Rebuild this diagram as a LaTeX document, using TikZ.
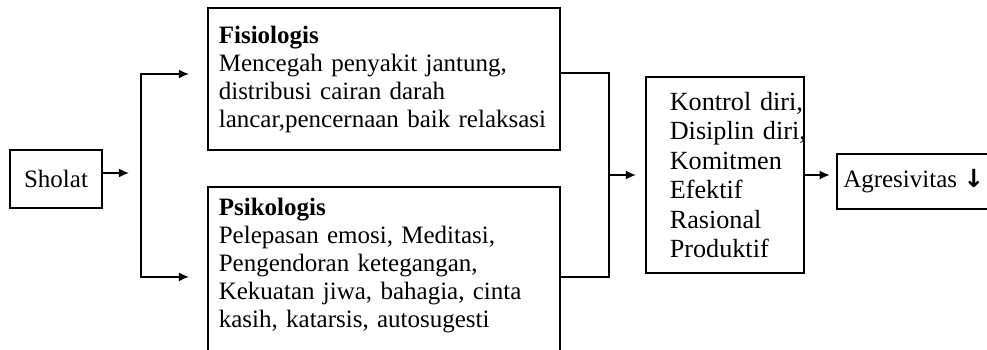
\documentclass[tikz,border=0pt]{standalone}
\usepackage{fontspec}
\setmainfont{Liberation Serif}
\newfontfamily\panah{DejaVu Sans}
\usetikzlibrary{arrows.meta,positioning}
\tikzset{%
  >={Latex[width=4.5pt,length=5pt]},
  % Specifications for style of nodes:
            base/.style = {rectangle, draw=black, line width=0.9pt,
                           font=\fontsize{12.5}{14}\selectfont},
         akarbox/.style = {base, minimum width=46pt, minimum height=29pt},
       dampakbox/.style = {base, align=left, text width=165pt, inner xsep=5.5pt},
        hasilbox/.style = {base, align=left, text width=55pt, inner xsep=12pt,
                           minimum height=98pt,
                           font=\fontsize{13.1}{14.7}\selectfont},
        akhirbox/.style = {base, minimum width=76pt, minimum height=27.5pt},
}

\begin{document}
\begin{tikzpicture}[x=0.5pt, y=-0.5pt, line width=0.75pt]
  \useasboundingbox (0,0) rectangle (987,349);
  % Specification of nodes (position, etc.)

  \node (sholat)        [akarbox] at (56,179) {Sholat};
  \node (fisio)         [dampakbox, minimum height=71pt, right=52pt of sholat, yshift=50pt]
        {\textbf{Fisiologis}\\ Mencegah penyakit jantung,\\ distribusi cairan darah\\ \mbox{lancar,pencernaan baik relaksasi}};
  \node (psiko)         [dampakbox, inner ysep=5.5pt, text depth=75pt, below=17.5pt of fisio]
        {\textbf{Psikologis}\\ Pelepasan emosi, Meditasi,\\ Pengendoran ketegangan,\\ Kekuatan jiwa, bahagia, cinta\\ kasih, katarsis, autosugesti};
  \node (hasil)         [hasilbox, right=271pt of sholat, yshift=2pt]
        {Kontrol~diri,\\ Disiplin~diri,\\ Komitmen\\ Efektif\\ Rasional\\ Produktif};
  \node (akhir)         [akhirbox, right=15.5pt of hasil, yshift=-3.25pt] {Agresivitas {\panah\bfseries ↓}};

  \coordinate (bagi)    at ([xshift=19pt, yshift=3pt]sholat.east);
  \coordinate (gabung)  at ([xshift=-18pt]hasil.west);

  \draw[->]                 ([yshift=3pt]sholat.east) -- ([xshift=-6pt]bagi);
  \draw[->]                 (bagi) |- ([xshift=-9pt, yshift=2.5pt]fisio.west);
  \draw[->]                 (bagi) |- ([xshift=-9pt, yshift=-45.5pt]psiko.north west);
  \draw                     ([yshift=3pt]fisio.east) -| (gabung) |- ([yshift=-45.5pt]psiko.north east);
  \draw[->, shorten >=4.5pt] (gabung) -- (hasil.west);
  \draw[->, shorten >=3pt]   (hasil.east) -- (hasil.east -| akhir.west);

\end{tikzpicture}
\end{document}
